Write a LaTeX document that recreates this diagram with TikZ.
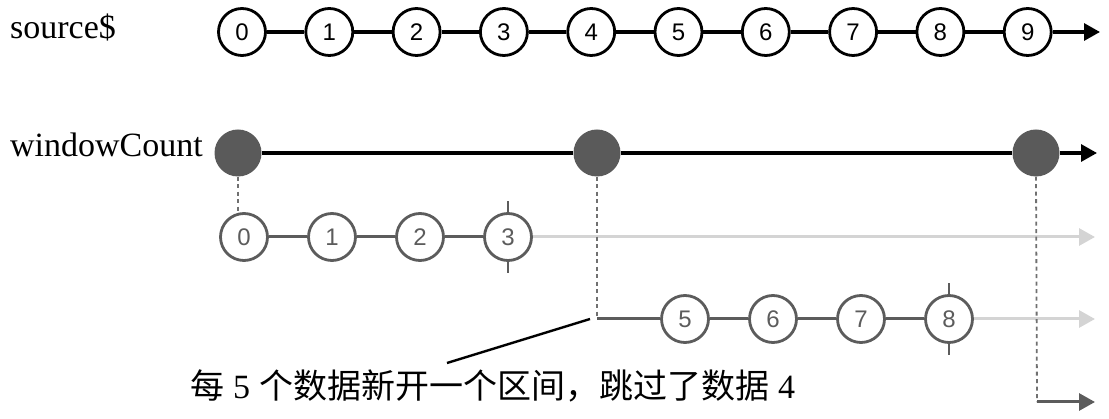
\documentclass[tikz,border=0pt]{standalone}
\usepackage{fontspec}
\setmainfont{Liberation Serif}
\newfontfamily\cjk{Noto Sans CJK SC}
\newfontfamily\numfont{Liberation Sans}
\usetikzlibrary{arrows.meta}
\definecolor{darkfill}{HTML}{5A5A5A}
\definecolor{wingray}{HTML}{5C5C5C}
\definecolor{lightgray}{HTML}{D4D4D4}
\definecolor{dashgray}{HTML}{707070}
\tikzset{
  lbl/.style={font=\fontsize{34}{40}\selectfont, anchor=base west, inner sep=0pt},
  srcball/.style={circle, draw=black, line width=2.8pt, fill=white, minimum size=47pt, inner sep=0pt, font=\numfont\fontsize{24}{26}\selectfont},
  winball/.style={circle, draw=wingray, line width=2.8pt, fill=white, minimum size=47pt, inner sep=0pt, text=wingray, font=\numfont\fontsize{24}{26}\selectfont},
  evball/.style={circle, fill=darkfill, minimum size=47pt, inner sep=0pt},
  srcline/.style={draw=black, line width=3.2pt},
  winline/.style={draw=wingray, line width=3pt},
  fadeline/.style={draw=lightgray, line width=3pt},
  dashline/.style={draw=dashgray, line width=1.8pt, dash pattern=on 4pt off 3.5pt},
  tip/.style={-{Triangle[length=16pt,width=17pt]}},
  tick/.style={draw=wingray, line width=2.8pt},
}
\begin{document}
\begin{tikzpicture}[x=1pt,y=-1pt]
\useasboundingbox (0,0) rectangle (1109,419);
% labels
\node[lbl] (lsrc) at (10,39) {source\$};
\node[lbl] (lwin) at (10,157) {windowCount};
% source$
\foreach \i in {0,...,9} {
  \node[srcball] (s\i) at ({242+87.3*\i},32) {\i};
}
\coordinate (send) at (1100,32);
\foreach \i [evaluate=\i as \j using int(\i+1)] in {0,...,8} {
  \draw[srcline] (s\i) -- (s\j);
}
\draw[srcline, tip] (s9) -- (send);
% windowCount
\node[evball] (w0) at (238,153) {};
\node[evball] (w1) at (597,153) {};
\node[evball] (w2) at (1036,153) {};
\coordinate (wend) at (1097,153);
\draw[srcline] (w0) -- (w1);
\draw[srcline] (w1) -- (w2);
\draw[srcline, tip] (w2) -- (wend);
% window 1
\foreach \i in {0,...,3} {
  \node[winball] (a\i) at ({244+88*\i},237) {\i};
}
\coordinate (aend) at (1095,237);
\draw[winline] (a0) -- (a1);
\draw[winline] (a1) -- (a2);
\draw[winline] (a2) -- (a3);
\draw[fadeline, tip, color=lightgray] (a3) -- (aend);
\draw[tick] (a3.north) -- ++(0,-11);
\draw[tick] (a3.south) -- ++(0,11);
\draw[dashline] (w0.south) -- (w0.south |- a0.north);
% window 2
\coordinate (bstart) at (597,319);
\foreach \i in {5,...,8} {
  \node[winball] (b\i) at ({685+88*(\i-5)},319) {\i};
}
\coordinate (bend) at (1095,319);
\draw[dashline] (w1.south) -- (bstart);
\draw[winline] (bstart) -- (b5);
\draw[winline] (b5) -- (b6);
\draw[winline] (b6) -- (b7);
\draw[winline] (b7) -- (b8);
\draw[fadeline, tip, color=lightgray] (b8) -- (bend);
\draw[tick] (b8.north) -- ++(0,-11);
\draw[tick] (b8.south) -- ++(0,11);
% window 3
\coordinate (cstart) at (1037,402);
\coordinate (cend) at (1095,402);
\draw[dashline] (w2.south) -- (cstart);
\draw[winline, tip, color=wingray] (cstart) -- (cend);
% note
\node[lbl, font=\fontsize{34}{40}\selectfont] (note) at (190,399) {{\cjk 每}\hspace{9pt}5\hspace{9pt}{\cjk 个数据新开一个区间，跳过了数据}\hspace{9pt}4};
\coordinate (nstart) at (447,363);
\coordinate (ntip) at (590,319);
\draw[line width=2.4pt] (nstart) -- (ntip);
\end{tikzpicture}
\end{document}
